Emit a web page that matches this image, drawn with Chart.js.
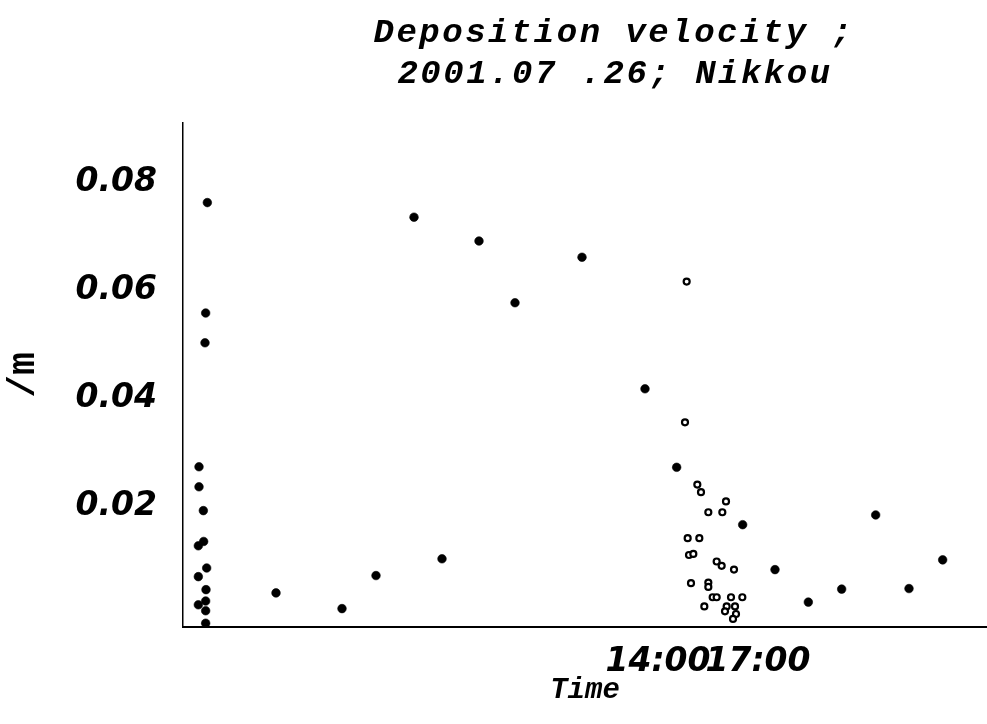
<!DOCTYPE html>
<html>
<head>
<meta charset="utf-8">
<script src="https://cdn.jsdelivr.net/npm/chart.js@4.4.1/dist/chart.umd.min.js"></script>
<style>
  html, body { margin: 0; padding: 0; background: #fff; }
  #wrap { width: 987px; height: 724px; }
</style>
</head>
<body>
<div id="wrap"><canvas id="chart" width="987" height="724"></canvas></div>
<script>
'use strict';

// time of day in hours, deposition velocity
const filledTime = [0.48, 0.43, 0.41, 0.23, 0.23, 0.36, 0.37, 0.21, 0.46, 0.21, 0.44, 0.21, 0.43, 0.43, 0.43,
  2.54, 4.52, 5.54, 6.68, 7.52, 8.63, 9.71, 11.72, 13.61, 14.56, 16.54, 17.51, 18.51, 19.51, 20.53, 21.53, 22.54];
const filledValue = [0.0762, 0.0558, 0.0503, 0.0274, 0.0237, 0.0193, 0.0136, 0.0128, 0.0087, 0.0071, 0.0047, 0.0019, 0.0026, 0.0008, -0.0015,
  0.0041, 0.0012, 0.0073, 0.0735, 0.0104, 0.0691, 0.0577, 0.0661, 0.0418, 0.0273, 0.0167, 0.0084, 0.0024, 0.0048, 0.0185, 0.0049, 0.0102];

const openTime = [14.86, 14.81, 15.18, 15.29, 16.04, 15.51, 15.93, 14.89, 15.24, 14.93, 15.06, 15.76, 15.91, 16.28,
  14.99, 15.51, 15.51, 15.64, 15.76, 16.19, 16.53, 15.39, 16.06, 16.31, 16.01, 16.34, 16.25];
const openValue = [0.0616, 0.0356, 0.0241, 0.0227, 0.0210, 0.0190, 0.0190, 0.0142, 0.0142, 0.0111, 0.0113, 0.0099, 0.0091, 0.0084,
  0.0059, 0.0060, 0.0052, 0.0033, 0.0033, 0.0033, 0.0033, 0.0016, 0.0016, 0.0016, 0.0007, 0.0002, -0.0007];

const xTickValues = [14, 17];
const xTickLabels = ['14:00', '17:00'];
const yTickValues = [0.02, 0.04, 0.06, 0.08];

const titleLines = ['Deposition velocity ;', '2001.07 .26; Nikkou'];

const toPoints = (xs, ys) => xs.map((x, i) => ({ x: x, y: ys[i] }));

// title drawn a bit right of centre, like the original
const titlePlugin = {
  id: 'titleLines',
  afterDraw(chart) {
    const ctx = chart.ctx;
    ctx.save();
    ctx.fillStyle = '#000';
    ctx.font = 'italic bold 34px "Liberation Mono"';
    ctx.letterSpacing = '2.5px';
    ctx.textAlign = 'center';
    ctx.textBaseline = 'alphabetic';
    ctx.fillText(titleLines[0], 614, 42);
    ctx.fillText(titleLines[1], 615, 83);
    ctx.restore();
  }
};

const tickFont = { family: 'DejaVu Sans', size: 33, style: 'italic', weight: 'bold' };

new Chart(document.getElementById('chart'), {
  type: 'scatter',
  data: {
    datasets: [
      {
        data: toPoints(filledTime, filledValue),
        backgroundColor: '#000',
        borderColor: '#000',
        borderWidth: 0.6,
        pointRadius: 4.3,
        clip: false
      },
      {
        data: toPoints(openTime, openValue),
        backgroundColor: '#fff',
        borderColor: '#000',
        borderWidth: 2.2,
        pointRadius: 3,
        clip: false
      }
    ]
  },
  options: {
    responsive: false,
    animation: false,
    events: [],
    layout: { autoPadding: false, padding: { top: 123, left: 0, right: 0, bottom: 0 } },
    plugins: { legend: { display: false }, tooltip: { enabled: false }, title: { display: false } },
    scales: {
      x: {
        type: 'linear',
        min: -0.25,
        max: 23.87,
        afterFit: s => { s.height = 97; s.paddingLeft = 0; s.paddingRight = 0; },
        afterBuildTicks: s => { s.ticks = xTickValues.map(v => ({ value: v })); },
        grid: { display: false, drawTicks: false, tickLength: 0 },
        border: { display: true, color: '#000', width: 2 },
        ticks: {
          autoSkip: false,
          maxRotation: 0,
          padding: 16,
          color: '#000',
          font: tickFont,
          callback: v => xTickLabels[xTickValues.indexOf(v)]
        },
        title: {
          display: true,
          text: 'Time',
          color: '#000',
          font: { family: 'Liberation Mono', size: 29, weight: 'bold', style: 'italic' },
          padding: { top: 0, bottom: 16 }
        }
      },
      y: {
        type: 'linear',
        min: -0.0022,
        max: 0.0909,
        afterFit: s => { s.width = 183; s.paddingTop = 0; s.paddingBottom = 0; },
        afterBuildTicks: s => { s.ticks = yTickValues.map(v => ({ value: v })); },
        grid: { display: false, drawTicks: false, tickLength: 0 },
        border: { display: true, color: '#000', width: 1.5 },
        ticks: {
          padding: 26,
          color: '#000',
          font: tickFont,
          callback: v => v.toFixed(2)
        },
        title: {
          display: true,
          text: '/m',
          color: '#000',
          font: { family: 'Liberation Mono', size: 38, weight: 'bold' },
          padding: { top: 2, bottom: 0 }
        }
      }
    }
  },
  plugins: [titlePlugin]
});
</script>
</body>
</html>
